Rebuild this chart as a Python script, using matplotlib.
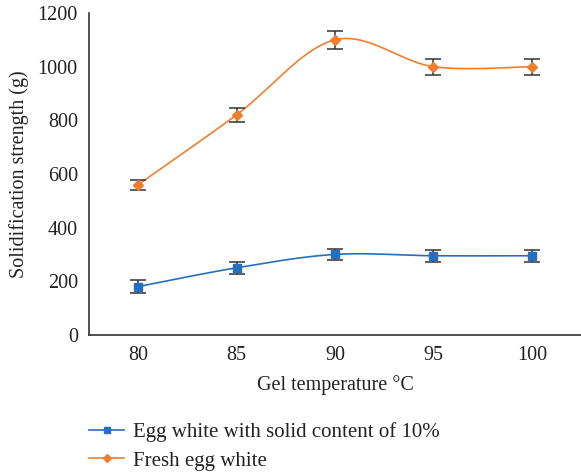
import numpy as np
import matplotlib.pyplot as plt

# Gel strength vs. gel temperature
temps = ["80", "85", "90", "95", "100"]
solid10 = [180, 250, 300, 295, 295]
solid10_err = [23, 22, 22, 22, 22]
fresh = [560, 820, 1100, 1000, 1000]
fresh_err = [18, 25, 33, 30, 30]

plt.rcParams['font.family'] = ['Liberation Serif', 'DejaVu Serif']
plt.rcParams['font.size'] = 14.5


def smooth(x, y, n=40):
    # Catmull-Rom curve through the points, like a spreadsheet "smoothed line"
    x = np.asarray(x, float)
    y = np.asarray(y, float)
    px = np.concatenate([[x[0]], x, [x[-1]]])
    py = np.concatenate([[y[0]], y, [y[-1]]])
    xs, ys = [], []
    for i in range(1, len(px) - 2):
        t = np.linspace(0, 1, n)
        b0x = px[i]
        b3x = px[i + 1]
        b1x = px[i] + (px[i + 1] - px[i - 1]) / 6
        b2x = px[i + 1] - (px[i + 2] - px[i]) / 6
        b0y = py[i]
        b3y = py[i + 1]
        b1y = py[i] + (py[i + 1] - py[i - 1]) / 6
        b2y = py[i + 1] - (py[i + 2] - py[i]) / 6
        xs.append((1 - t)**3 * b0x + 3 * (1 - t)**2 * t * b1x + 3 * (1 - t) * t**2 * b2x + t**3 * b3x)
        ys.append((1 - t)**3 * b0y + 3 * (1 - t)**2 * t * b1y + 3 * (1 - t) * t**2 * b2y + t**3 * b3y)
    return np.concatenate(xs), np.concatenate(ys)


fig = plt.figure(figsize=(5.81, 4.73), dpi=100)
ax = fig.add_axes([0.153, 0.292, 0.847, 0.6805])

pos = np.arange(len(temps))
blue = '#2570BE'
orange = '#F07E2F'

for vals, errs, col, mk, ms, lab in [
        (solid10, solid10_err, blue, 's', 6.2, 'Egg white with solid content of 10%'),
        (fresh, fresh_err, orange, 'D', 5, 'Fresh egg white')]:
    sx, sy = smooth(pos, vals)
    ax.plot(sx, sy, color=col, lw=1.2)
    ax.errorbar(pos, vals, yerr=errs, fmt='none', ecolor='#333333',
                elinewidth=1.1, capsize=5.5, capthick=1.1)
    ax.plot(pos, vals, linestyle='none', marker=mk, color=col, markersize=ms)
    ax.plot([], [], color=col, lw=1.2, marker=mk, markersize=ms * 0.8, label=lab)

ax.set_xlim(-0.5, 4.5)
ax.set_ylim(0, 1200)
ax.set_xticks(pos)
ax.set_xticklabels(temps)
ax.set_yticks(range(0, 1201, 200))
ax.tick_params(length=0, pad=8, colors='#222222')
for s in ['top', 'right']:
    ax.spines[s].set_visible(False)
for s in ['left', 'bottom']:
    ax.spines[s].set_color('#333333')
    ax.spines[s].set_linewidth(1.2)

ax.set_xlabel('Gel temperature °C', labelpad=7, color='#222222')
ax.set_ylabel('Solidification strength (g)', labelpad=6, color='#222222')

fig.legend(loc='upper left', bbox_to_anchor=(0.153, 0.108), frameon=False,
           fontsize=15, handlelength=1.7, handletextpad=0.4, labelspacing=0.45,
           borderaxespad=0, borderpad=0, labelcolor='#222222')

fig.savefig('out.png', dpi=100)
